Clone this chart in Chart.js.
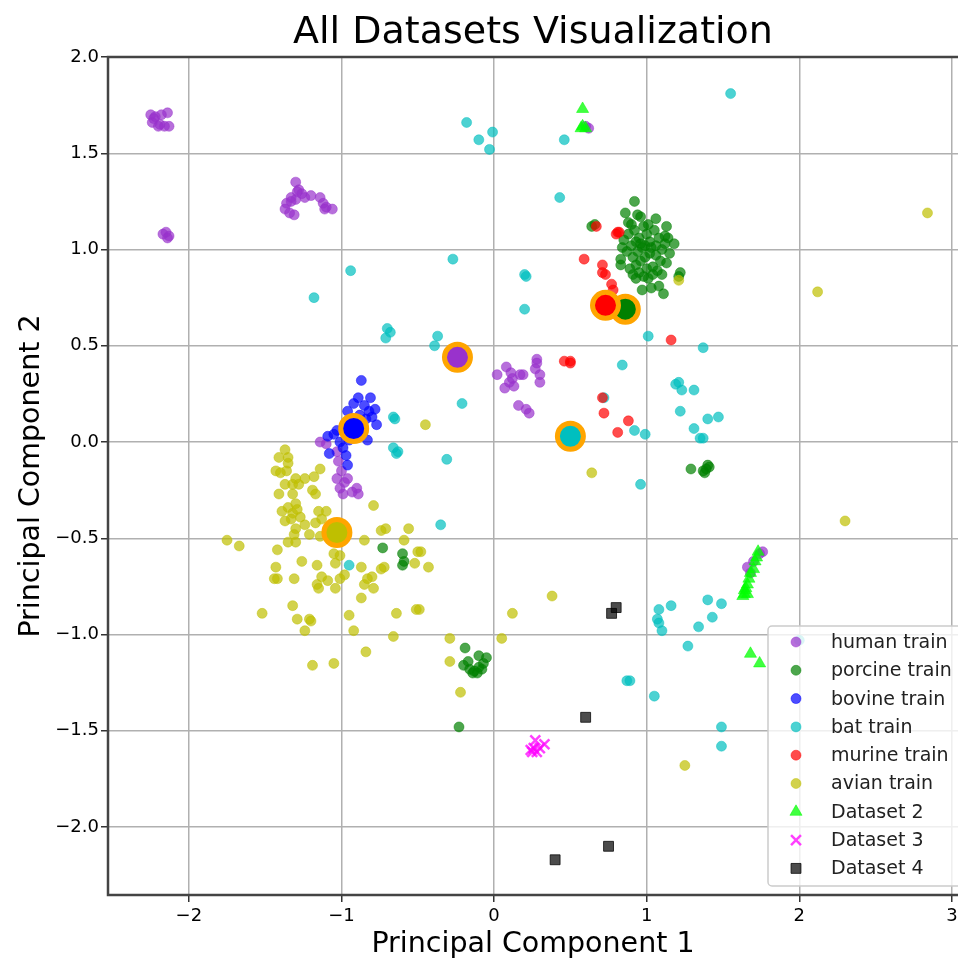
<!DOCTYPE html>
<html>
<head>
<meta charset="utf-8">
<title>All Datasets Visualization</title>
<script src="https://cdn.jsdelivr.net/npm/chart.js@4.4.1/dist/chart.umd.min.js"></script>
<style>
  html, body { margin: 0; padding: 0; background: #fff; }
  canvas { display: block; }
</style>
</head>
<body>
<canvas id="pca" width="958" height="963"></canvas>
<script>
// tick labels
const xTicks = [-2, -1, 0, 1, 2, 3]
const yTicks = [-2.0, -1.5, -1.0, -0.5, 0.0, 0.5, 1.0, 1.5, 2.0]

// training points, [PC1, PC2]
const human = [
  [-2.25,1.70],[-2.22,1.69],[-2.18,1.70],[-2.14,1.71],[-2.24,1.66],[-2.20,1.64],[-2.16,1.64],[-2.13,1.64],[-2.19,1.65],[-2.23,1.68],
  [-2.17,1.08],[-2.15,1.09],[-2.13,1.07],[-2.14,1.06],
  [-1.30,1.35],[-1.28,1.31],[-1.26,1.29],[-1.33,1.27],[-1.36,1.24],[-1.37,1.21],[-1.34,1.19],[-1.31,1.18],[-1.33,1.25],[-1.30,1.26],
  [-1.24,1.27],[-1.20,1.28],[-1.14,1.27],[-1.12,1.24],[-1.10,1.22],[-1.06,1.21],[-1.11,1.21],[-1.29,1.30],
  [0.60,1.64],[0.62,1.63],
  [0.02,0.35],[0.08,0.39],[0.17,0.35],[0.28,0.43],[0.28,0.41],[0.30,0.35],[0.30,0.31],[0.10,0.31],[0.07,0.28],[0.16,0.19],
  [0.23,0.15],[0.12,0.33],[0.19,0.35],[0.11,0.36],[0.13,0.29],[0.21,0.17],[0.27,0.38],
  [-1.14,0.00],[-1.10,-0.01],[-1.03,-0.05],[-1.02,-0.10],[-1.00,-0.15],[-1.03,-0.19],[-0.98,-0.21],[-1.01,-0.24],[-0.99,-0.27],
  [-0.93,-0.26],[-0.89,-0.27],[-0.90,-0.24],[-0.96,-0.19],
  [1.66,-0.65],[1.70,-0.62],[1.74,-0.58],[1.76,-0.57],[1.68,-0.68]
]
const porcine = [
  [0.92,1.25],[0.86,1.19],[0.94,1.18],[0.96,1.17],[1.06,1.16],[1.13,1.12],[0.88,1.14],[1.18,1.03],[1.12,1.03],[1.22,0.88],
  [1.21,0.86],[0.83,0.95],[0.83,0.92],[0.93,0.85],[0.97,0.79],[1.03,0.80],[1.08,0.81],[1.11,0.77],[1.13,0.93],[1.01,0.85],
  [1.04,0.91],[0.85,1.05],[0.88,1.08],[0.90,1.02],[0.92,1.10],[0.95,1.06],[0.98,1.12],[1.00,1.08],[1.02,1.04],[1.05,1.10],
  [1.08,1.06],[1.10,1.00],[0.87,0.99],[0.91,0.96],[0.94,0.99],[0.97,1.01],[0.99,0.96],[1.02,0.98],[1.06,0.97],[1.09,0.94],
  [0.89,0.90],[0.93,0.92],[0.96,0.94],[1.00,0.90],[1.04,0.87],[1.07,0.89],[0.95,0.88],[0.98,0.86],[1.12,1.07],[1.15,0.98],
  [0.84,1.01],[0.90,1.13],[1.01,1.13],[0.96,1.03],[1.03,1.01],[0.93,1.04],[0.99,1.02],[1.06,1.02],[0.91,0.87],[1.10,0.87],
  [1.14,1.06],[0.64,1.12],[0.66,1.13],
  [1.29,-0.14],[1.37,-0.15],[1.39,-0.14],[1.40,-0.12],[1.38,-0.16],[1.41,-0.13],
  [-0.19,-1.07],[-0.10,-1.11],[-0.05,-1.12],[-0.20,-1.16],[-0.16,-1.18],[-0.13,-1.19],[-0.10,-1.17],[-0.07,-1.15],[-0.14,-1.20],
  [-0.11,-1.20],[-0.17,-1.14],[-0.08,-1.18],[-0.23,-1.48],
  [-0.73,-0.55],[-0.60,-0.58],[-0.59,-0.62],[-0.60,-0.64]
]
const bovine = [
  [-0.87,0.32],[-0.89,0.23],[-0.81,0.23],[-0.78,0.17],[-0.96,0.16],[-0.77,0.09],[-1.09,0.03],[-1.05,0.04],[-1.08,-0.06],
  [-0.96,-0.12],[-0.83,0.01],[-1.01,0.00],[-0.92,0.20],[-0.85,0.19],[-0.88,0.14],[-0.84,0.12],[-0.93,0.12],[-0.98,0.08],
  [-0.86,0.05],[-0.91,0.03],[-0.95,0.01],[-0.99,-0.03],[-0.97,-0.07],[-0.82,0.16],[-0.80,0.13],[-1.03,0.06]
]
const bat = [
  [-0.94,0.89],[-1.18,0.75],[-0.70,0.59],[-0.71,0.54],[-0.68,0.57],[-0.18,1.66],[-0.10,1.57],[-0.01,1.61],[-0.03,1.52],
  [0.46,1.57],[0.43,1.27],[-0.27,0.95],[0.20,0.87],[0.21,0.86],[0.20,0.69],[1.55,1.81],[-0.66,0.13],[-0.65,0.12],
  [-0.66,-0.03],[-0.64,-0.06],[-0.63,-0.05],[-0.95,-0.64],[-0.37,0.55],[-0.39,0.50],[-0.21,0.20],[-0.31,-0.09],[-0.35,-0.43],
  [1.01,0.55],[1.37,0.49],[0.84,0.40],[1.19,0.30],[1.21,0.31],[1.23,0.27],[1.31,0.27],[1.22,0.16],[1.31,0.07],[1.40,0.12],
  [1.47,0.13],[1.35,0.02],[1.37,0.02],[0.92,0.06],[0.99,0.04],[0.72,0.23],[0.96,-0.22],[1.08,-0.87],[1.16,-0.85],[1.40,-0.82],
  [1.49,-0.84],[1.43,-0.91],[1.07,-0.92],[1.08,-0.94],[1.10,-0.98],[1.34,-0.96],[1.27,-1.06],[0.87,-1.24],[0.89,-1.24],
  [1.05,-1.32],[1.49,-1.48],[1.49,-1.58],[2.00,-1.03]
]
const murine = [
  [0.67,1.12],[0.81,1.09],[0.82,1.09],[0.80,1.08],[0.59,0.95],[0.71,0.92],[0.71,0.88],[0.73,0.87],[0.77,0.82],[0.78,0.79],
  [1.16,0.53],[0.46,0.42],[0.50,0.41],[0.50,0.42],[0.71,0.23],[0.72,0.15],[0.88,0.11],[0.81,0.05]
]
const avian = [
  [-1.37,-0.04],[-1.41,-0.08],[-1.35,-0.08],[-1.35,-0.11],[-1.43,-0.15],[-1.40,-0.16],[-1.36,-0.15],[-1.30,-0.19],[-1.24,-0.19],
  [-1.18,-0.18],[-1.14,-0.14],[-1.37,-0.22],[-1.32,-0.22],[-1.28,-0.22],[-1.41,-0.27],[-1.32,-0.27],[-1.19,-0.25],[-1.17,-0.27],
  [-1.39,-0.36],[-1.35,-0.34],[-1.32,-0.37],[-1.29,-0.35],[-1.27,-0.39],[-1.33,-0.40],[-1.30,-0.32],[-1.37,-0.41],[-1.30,-0.45],
  [-1.24,-0.43],[-1.17,-0.42],[-1.15,-0.36],[-1.10,-0.36],[-1.13,-0.40],[-1.31,-0.48],[-1.35,-0.52],[-1.30,-0.52],[-1.21,-0.48],
  [-1.14,-0.49],[-1.05,-0.58],[-1.01,-0.59],[-1.04,-0.63],[-0.98,-0.69],[-1.01,-0.71],[-0.85,-0.51],[-0.79,-0.33],[-0.74,-0.46],
  [-0.71,-0.45],[-0.56,-0.45],[-0.59,-0.51],[-0.50,-0.57],[-0.52,-0.63],[-0.49,-0.87],[-0.64,-0.89],[-0.72,-0.65],[-0.74,-0.66],
  [-0.87,-0.65],[-0.83,-0.71],[-0.80,-0.70],[-0.85,-0.74],[-0.79,-0.76],[-0.87,-0.81],[-0.95,-0.90],[-1.09,-0.72],[-1.13,-0.70],
  [-1.16,-0.64],[-1.26,-0.62],[-1.31,-0.71],[-1.42,-0.56],[-1.43,-0.65],[-1.44,-0.71],[-1.42,-0.71],[-1.16,-0.74],[-1.15,-0.76],
  [-1.04,-0.76],[-1.32,-0.85],[-1.29,-0.92],[-1.21,-0.92],[-1.52,-0.89],[-1.75,-0.51],[-1.67,-0.54],[-1.20,-0.93],[-1.24,-0.98],
  [-0.92,-0.98],[-0.66,-1.01],[-0.51,-0.87],[-0.84,-1.09],[-1.05,-1.15],[-1.19,-1.16],[-1.06,-0.49],[-1.00,-0.45],
  [-0.45,0.09],[1.21,0.84],[0.64,-0.16],[0.38,-0.80],[0.12,-0.89],[-0.48,-0.57],[-0.43,-0.65],[-0.29,-1.02],[0.05,-1.02],
  [-0.29,-1.14],[-0.22,-1.30],[1.25,-1.68],[2.84,1.19],[2.12,0.78],[2.30,-0.41]
]
// class centroids, same order as the training classes
const centroids = [[-0.24,0.44],[0.86,0.69],[-0.92,0.07],[0.50,0.03],[0.73,0.71],[-1.03,-0.47]]

// extra datasets
const dataset2 = [
  [0.58,1.73],[0.58,1.64],[0.57,1.63],[0.60,1.63],[1.73,-0.57],[1.72,-0.60],[1.71,-0.62],[1.70,-0.66],[1.68,-0.68],[1.67,-0.71],
  [1.66,-0.74],[1.65,-0.76],[1.64,-0.77],[1.64,-0.79],[1.63,-0.80],[1.66,-0.79],[1.68,-1.10],[1.74,-1.15]
]
const dataset3 = [[0.27,-1.55],[0.30,-1.59],[0.26,-1.59],[0.25,-1.61],[0.28,-1.61],[0.33,-1.57],[0.24,-1.60]]
const dataset4 = [[0.80,-0.86],[0.77,-0.89],[0.60,-1.43],[0.75,-2.10],[0.40,-2.17]]

const FONT = 'DejaVu Sans'
const classColors = ['153,50,204', '0,128,0', '0,0,255', '0,191,191', '255,0,0', '191,191,0']

const pts = arr => arr.map(([x, y]) => ({x, y}))

function trainSet(label, data, rgb) {
  return {
    label, data: pts(data), pointStyle: 'circle', pointRadius: 5,
    backgroundColor: 'rgba(' + rgb + ',0.7)', borderColor: 'rgba(' + rgb + ',0.45)', borderWidth: 1
  }
}

const datasets = [
  trainSet('human train', human, classColors[0]),
  trainSet('porcine train', porcine, classColors[1]),
  trainSet('bovine train', bovine, classColors[2]),
  trainSet('bat train', bat, classColors[3]),
  trainSet('murine train', murine, classColors[4]),
  trainSet('avian train', avian, classColors[5]),
  {
    label: 'centroids', data: pts(centroids), pointStyle: 'circle', pointRadius: 13,
    backgroundColor: classColors.map(c => 'rgb(' + c + ')'), borderColor: '#FFA500', borderWidth: 5,
    noLegend: true
  },
  {
    label: 'Dataset 2', data: pts(dataset2), pointStyle: 'triangle', pointRadius: 7,
    backgroundColor: 'rgba(0,255,0,0.75)', borderColor: 'rgba(0,255,0,0.5)', borderWidth: 1
  },
  {
    label: 'Dataset 3', data: pts(dataset3), pointStyle: 'crossRot', pointRadius: 7,
    backgroundColor: 'rgba(255,0,255,0.75)', borderColor: 'rgba(255,0,255,0.75)', borderWidth: 2.5
  },
  {
    label: 'Dataset 4', data: pts(dataset4), pointStyle: 'rect', pointRadius: 7,
    backgroundColor: 'rgba(0,0,0,0.7)', borderColor: 'rgba(0,0,0,0.75)', borderWidth: 1
  }
]
// later datasets on top, like matplotlib
datasets.forEach((d, i) => { d.order = datasets.length - i })

// dark spines: left, top, bottom (right one falls off the picture)
const spines = {
  id: 'spines',
  afterDatasetsDraw(chart) {
    const {ctx, chartArea: a} = chart
    ctx.save()
    ctx.strokeStyle = '#444'
    ctx.lineWidth = 2.5
    ctx.beginPath()
    ctx.moveTo(a.right + 2, a.top)
    ctx.lineTo(a.left, a.top)
    ctx.lineTo(a.left, a.bottom)
    ctx.lineTo(a.right + 2, a.bottom)
    ctx.stroke()
    ctx.restore()
  }
}

// matplotlib style framed legend at lower right, inside the axes
const boxLegend = {
  id: 'boxLegend',
  afterDraw(chart) {
    const {ctx, chartArea: a} = chart
    const items = chart.data.datasets.filter(d => !d.noLegend)
    const left = a.right - 190, top = a.bottom - 269, w = 200, h = 260, step = 28.3
    ctx.save()
    ctx.beginPath()
    ctx.roundRect(left, top, w, h, 4)
    ctx.fillStyle = 'rgba(255,255,255,0.8)'
    ctx.fill()
    ctx.strokeStyle = '#cccccc'
    ctx.lineWidth = 1.5
    ctx.stroke()
    ctx.font = '19px "' + FONT + '"'
    ctx.textBaseline = 'middle'
    items.forEach((d, i) => {
      const y = top + 16 + i * step
      ctx.fillStyle = d.backgroundColor
      ctx.strokeStyle = d.borderColor
      ctx.lineWidth = d.borderWidth
      Chart.helpers.drawPoint(ctx, {pointStyle: d.pointStyle, radius: d.pointStyle === 'circle' ? 5 : 7, borderWidth: d.borderWidth, rotation: 0}, left + 28, y)
      ctx.fillStyle = '#222'
      ctx.fillText(d.label, left + 63, y + 1)
    })
    ctx.restore()
  }
}

new Chart(document.getElementById('pca'), {
  type: 'scatter',
  data: {datasets},
  plugins: [spines, boxLegend],
  options: {
    responsive: false,
    animation: false,
    devicePixelRatio: 1,
    layout: {padding: 0, autoPadding: false},
    plugins: {
      legend: {display: false},
      tooltip: {enabled: false},
      title: {
        display: true, text: 'All Datasets Visualization', color: '#000', fullSize: false,
        font: {family: FONT, size: 38, weight: 'normal'}, padding: {top: 10, bottom: 1.4}
      }
    },
    scales: {
      x: {
        type: 'linear', min: -2.53, max: 3.04,
        afterBuildTicks: s => { s.ticks = xTicks.map(v => ({value: v})) },
        afterFit: s => { s.height = 68; s.paddingLeft = 0; s.paddingRight = 0 },
        ticks: {
          color: '#000', padding: 4, font: {family: FONT, size: 18},
          callback: v => String(v).replace('-', '\u2212')
        },
        grid: {color: '#b0b0b0', lineWidth: 1.5, tickColor: '#333', tickWidth: 1.5, tickLength: 7},
        border: {display: false},
        title: {display: true, text: 'Principal Component 1', color: '#000', font: {family: FONT, size: 28.5}, padding: {top: 0, bottom: 1}}
      },
      y: {
        type: 'linear', min: -2.353, max: 2.0,
        afterBuildTicks: s => { s.ticks = yTicks.map(v => ({value: v})) },
        afterFit: s => { s.width = 108; s.paddingTop = 0; s.paddingBottom = 0 },
        ticks: {
          color: '#000', padding: 2, font: {family: FONT, size: 18},
          callback: v => v.toFixed(1).replace('-', '\u2212')
        },
        grid: {color: '#b0b0b0', lineWidth: 1.5, tickColor: '#333', tickWidth: 1.5, tickLength: 7},
        border: {display: false},
        title: {display: true, text: 'Principal Component 2', color: '#000', font: {family: FONT, size: 28.5}, padding: {top: 14, bottom: 0}}
      }
    }
  }
})
</script>
</body>
</html>
